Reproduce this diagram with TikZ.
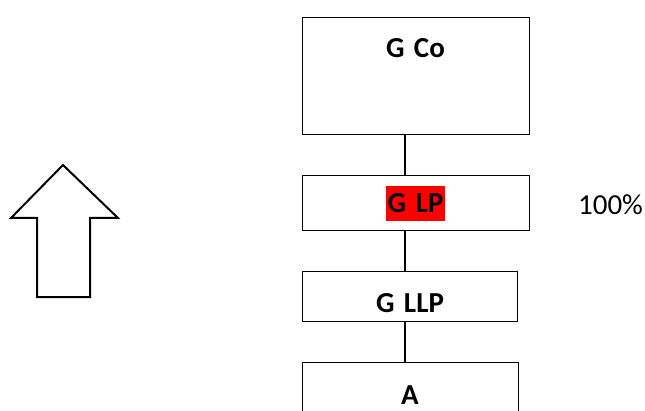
\documentclass[tikz,border=0pt]{standalone}
\usepackage{fontspec}
\setmainfont{Carlito}
\begin{document}
\begin{tikzpicture}[x=1pt,y=1pt,
  box/.style={draw=black,line width=1.1pt,fill=white,inner sep=0pt,anchor=north west},
  lbl/.style={font=\fontsize{29}{32}\selectfont\bfseries,inner sep=0pt},
  link/.style={draw=black,line width=1.1pt}]
\useasboundingbox (0,0) rectangle (645,410);
\clip (0,0) rectangle (645,410);
% boxes of the chain (top edge at 410 - y)
\node[box,minimum width=227,minimum height=117] (gco) at (302,393) {};
\node[box,minimum width=227,minimum height=55] (glp) at (302,235) {};
\node[box,minimum width=215,minimum height=50] (gllp) at (302,139) {};
\node[box,minimum width=216,minimum height=70] (a) at (302,48) {};
% links along the chain
\coordinate (spine) at (405,0);
\draw[link] (gco.south -| spine) -- (glp.north -| spine);
\draw[link] (glp.south -| spine) -- (gllp.north -| spine);
\draw[link] (gllp.south -| spine) -- (a.north -| spine);
% labels
\node[lbl] (tco) at (415.5,362) {G\hspace{0.1em} Co};
\node[lbl,fill=red,minimum width=59,minimum height=35] (tlp) at (415.5,206.5) {G\hspace{0.1em} LP};
\node[lbl] (tllp) at (410,107) {G\hspace{0.1em} LLP};
\node[lbl] (ta) at (410,15) {A};
\node[font=\fontsize{29}{32}\selectfont,inner sep=0pt] (pct) at (610.5,205) {100\%};
% hollow up arrow
\draw[line width=2pt,line join=miter] (63,245) -- (118,192) -- (90,192) -- (90,113)
  -- (37,113) -- (37,192) -- (11,192) -- cycle;
\end{tikzpicture}
\end{document}
